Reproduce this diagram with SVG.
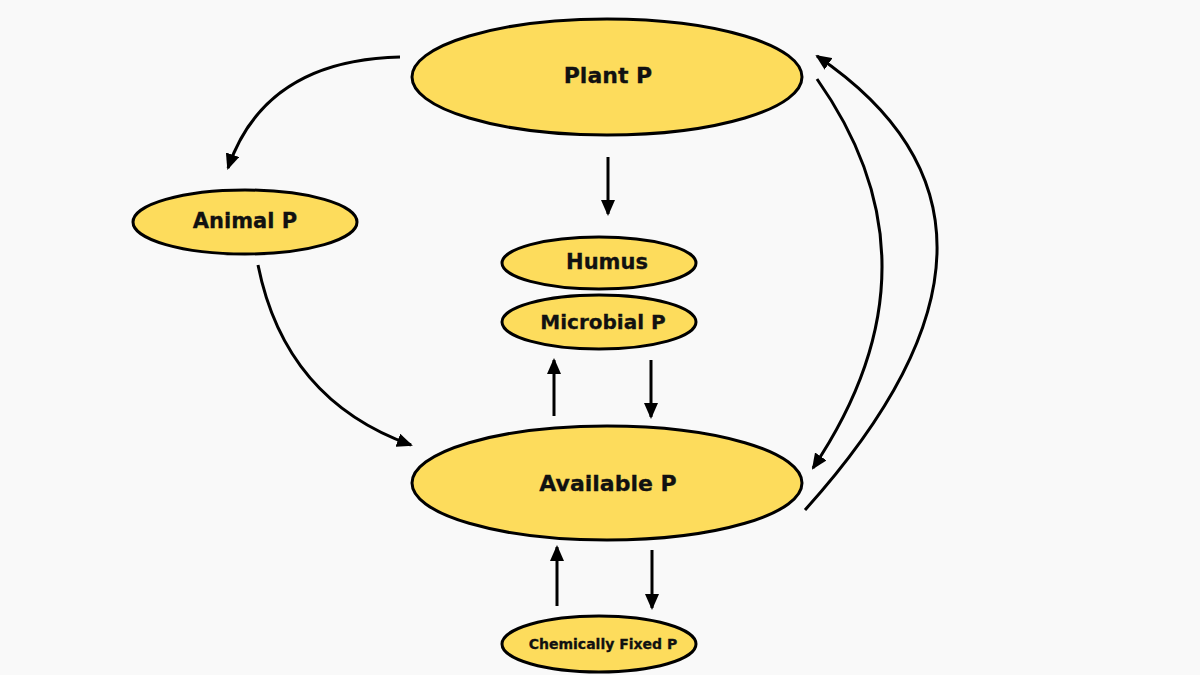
<svg xmlns="http://www.w3.org/2000/svg" width="1200" height="675" viewBox="0 0 1200 675">
<style>
.n{fill:#FDDC5C;stroke:#000;stroke-width:3}
.t{font-family:"DejaVu Sans","Liberation Sans",sans-serif;font-weight:bold;fill:#111;stroke:#111;stroke-width:0.3;text-anchor:middle;dominant-baseline:central}
.c{fill:none;stroke:#000;stroke-width:3}
</style>
<defs>
<marker id="ah" markerUnits="userSpaceOnUse" markerWidth="16" markerHeight="14" refX="14" refY="7" orient="auto">
<path d="M0,0 L16,7 L0,14 Z" fill="#000"/>
</marker>
</defs>
<rect width="1200" height="675" fill="#F9F9F9"/>
<g id="plant"><ellipse class="n" cx="607" cy="77" rx="195" ry="58"/><text class="t" x="608" y="75" font-size="22">Plant P</text></g>
<g id="animal"><ellipse class="n" cx="245" cy="222" rx="112" ry="32"/><text class="t" x="245" y="221" font-size="21">Animal P</text></g>
<g id="humus"><ellipse class="n" cx="599" cy="263" rx="97" ry="26"/><text class="t" x="607" y="262" font-size="21">Humus</text></g>
<g id="microbial"><ellipse class="n" cx="599" cy="322" rx="97" ry="27"/><text class="t" x="603" y="322" font-size="20">Microbial P</text></g>
<g id="available"><ellipse class="n" cx="607" cy="483" rx="195" ry="57"/><text class="t" x="608" y="483" font-size="22">Available P</text></g>
<g id="chemfixed"><ellipse class="n" cx="599" cy="644" rx="97" ry="28"/><text class="t" x="603" y="644" font-size="14">Chemically Fixed P</text></g>
<g id="connectors">
<path class="c" d="M400,57 Q265,60 228,168" marker-end="url(#ah)"/>
<path class="c" d="M258,265 Q285,400 411,445" marker-end="url(#ah)"/>
<path class="c" d="M608,157 L608,214" marker-end="url(#ah)"/>
<path class="c" d="M554,416 L554,360" marker-end="url(#ah)"/>
<path class="c" d="M651,360 L651,417" marker-end="url(#ah)"/>
<path class="c" d="M652,550 L652,608" marker-end="url(#ah)"/>
<path class="c" d="M557,606 L557,547" marker-end="url(#ah)"/>
<path class="c" d="M817,79 Q949,266 813,468" marker-end="url(#ah)"/>
<path class="c" d="M805,510 Q1063,223 817,56" marker-end="url(#ah)"/>
</g>
</svg>
